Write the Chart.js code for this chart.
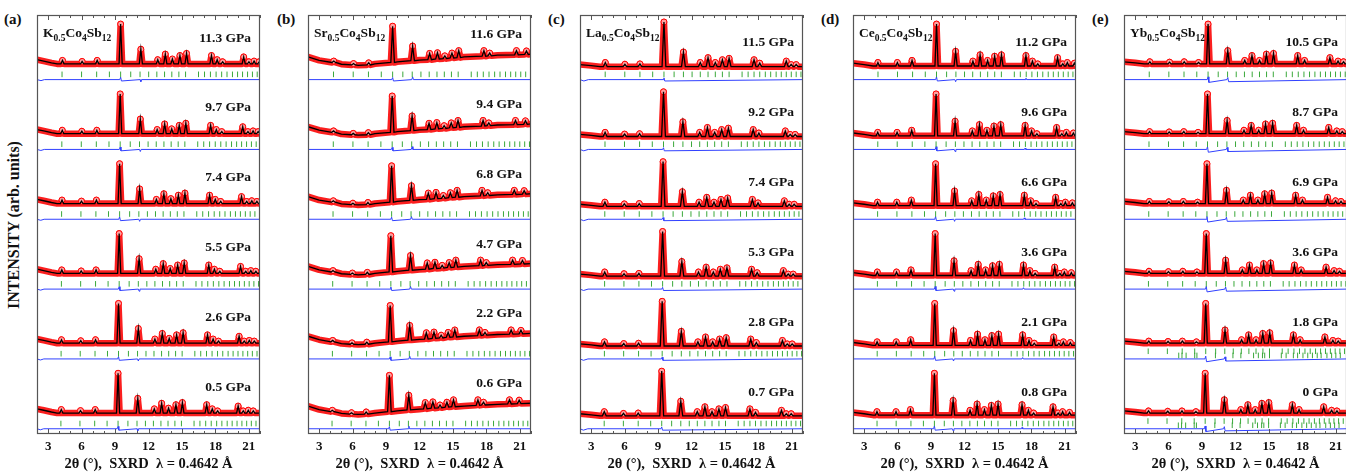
<!DOCTYPE html>
<html>
<head>
<meta charset="utf-8">
<title>SXRD patterns under pressure</title>
<script src="https://cdn.jsdelivr.net/npm/chart.js@4.4.1/dist/chart.umd.min.js"></script>
<style>
  html, body { margin: 0; padding: 0; background: #fff; overflow: hidden; }
  #wrap { position: relative; width: 1346px; height: 473px; overflow: hidden;
          font-family: 'Liberation Serif', serif; font-weight: bold; color: #111; }
  .panel { position: absolute; top: 0; width: 233px; height: 473px; }
  .letter { position: absolute; top: 11px; font-size: 15px; }
  #ytitle { position: absolute; left: 14px; top: 225px; font-size: 16px; white-space: nowrap;
            transform: translate(-50%, -50%) rotate(-90deg); }
</style>
</head>
<body>
<div id="wrap">
  <div id="ytitle">INTENSITY (arb. units)</div>
</div>
<script>
// ---- data ----
const dopants = ['K', 'Sr', 'La', 'Ce', 'Yb'];
const letters = ['(a)', '(b)', '(c)', '(d)', '(e)'];

// pressures, top row to bottom row (GPa)
const pressK  = [11.3, 9.7, 7.4, 5.5, 2.6, 0.5];
const pressSr = [11.6, 9.4, 6.8, 4.7, 2.2, 0.6];
const pressLa = [11.5, 9.2, 7.4, 5.3, 2.8, 0.7];
const pressCe = [11.2, 9.6, 6.6, 3.6, 2.1, 0.8];
const pressYb = [10.5, 8.7, 6.9, 3.6, 1.8, 0];

// position of the strongest reflection in each row (top to bottom)
const mainK  = [9.50, 9.46, 9.41, 9.37, 9.31, 9.27];
const mainSr = [9.59, 9.55, 9.50, 9.43, 9.37, 9.30];
const mainLa = [9.53, 9.49, 9.45, 9.41, 9.37, 9.33];
const mainCe = [9.49, 9.45, 9.41, 9.37, 9.33, 9.30];
const mainYb = [9.54, 9.49, 9.44, 9.38, 9.33, 9.28];

// peak positions (lowest-pressure row), heights and base level (fraction of a row)
const posK  = [4.18, 5.9, 7.22, 9.27, 11.04, 12.52, 13.18, 13.8, 14.46, 15.04, 17.22, 17.72, 18.2, 20.04, 20.5, 20.95, 21.4];
const htK   = [0.05, 0.035, 0.05, 0.57, 0.21, 0.06, 0.14, 0.07, 0.12, 0.15, 0.12, 0.06, 0.03, 0.1, 0.03, 0.04, 0.03];
const baseK = [0.3, 0.3, 0.3, 0.3, 0.3, 0.3, 0.3, 0.3, 0.3, 0.3, 0.3, 0.3, 0.3, 0.3, 0.3, 0.3, 0.3];
const bgXK  = [2, 2.6, 3.3, 3.8, 22];
const bgYK  = [0.36, 0.34, 0.315, 0.3, 0.3];

const posSr  = [4.18, 5.9, 7.22, 9.3, 11.04, 12.52, 13.2, 13.84, 14.46, 15.05, 17.24, 17.74, 20.07, 20.94];
const htSr   = [0.02, 0.02, 0.03, 0.52, 0.21, 0.09, 0.09, 0.04, 0.07, 0.1, 0.08, 0.04, 0.06, 0.05];
const baseSr = [0.32, 0.285, 0.285, 0.32, 0.345, 0.36, 0.37, 0.375, 0.385, 0.39, 0.41, 0.415, 0.43, 0.435];
const bgXSr  = [2, 3, 5, 6.5, 8, 10, 12, 16, 19, 22];
const bgYSr  = [0.4, 0.35, 0.295, 0.28, 0.3, 0.33, 0.355, 0.4, 0.425, 0.44];

const posLa  = [4.18, 5.9, 7.22, 9.33, 11.04, 12.52, 13.2, 13.84, 14.46, 15.05, 17.24, 17.74, 20.07, 20.5, 20.94];
const htLa   = [0.06, 0.035, 0.04, 0.64, 0.21, 0.06, 0.13, 0.06, 0.1, 0.12, 0.1, 0.05, 0.08, 0.03, 0.03];
const baseLa = [0.26, 0.26, 0.26, 0.26, 0.26, 0.26, 0.26, 0.26, 0.26, 0.26, 0.26, 0.26, 0.26, 0.26, 0.26];
const bgXLa  = [2, 3, 3.8, 22];
const bgYLa  = [0.29, 0.275, 0.26, 0.26];

const posCe  = [4.15, 5.86, 7.15, 9.3, 10.98, 12.5, 13.13, 13.79, 14.41, 15.01, 17.16, 17.73, 18.2, 19.94, 20.4, 20.8, 21.42];
const htCe   = [0.05, 0.05, 0.08, 0.6, 0.21, 0.07, 0.16, 0.08, 0.14, 0.16, 0.15, 0.07, 0.03, 0.12, 0.03, 0.05, 0.04];
const baseCe = [0.27, 0.27, 0.27, 0.27, 0.27, 0.27, 0.27, 0.27, 0.27, 0.27, 0.27, 0.27, 0.27, 0.27, 0.27, 0.27, 0.27];
const bgXCe  = [2, 3, 3.8, 22];
const bgYCe  = [0.31, 0.29, 0.27, 0.27];

const posYb  = [4.2, 5.92, 7.2, 8.45, 9.28, 11.0, 12.48, 13.11, 13.77, 14.37, 14.99, 17.1, 17.7, 19.91, 20.62, 21.1];
const htYb   = [0.03, 0.025, 0.03, 0.02, 0.57, 0.19, 0.05, 0.12, 0.05, 0.14, 0.15, 0.12, 0.05, 0.09, 0.04, 0.03];
const baseYb = [0.3, 0.3, 0.3, 0.3, 0.3, 0.3, 0.3, 0.3, 0.3, 0.3, 0.3, 0.3, 0.3, 0.3, 0.3, 0.3];
const bgXYb  = [2, 3, 3.8, 22];
const bgYYb  = [0.33, 0.315, 0.3, 0.3];

// difference curve (obs - calc), lowest-pressure row
const diffXK  = [2, 2.3, 2.6, 9.2, 9.27, 9.34, 10.97, 11.04, 11.11, 22];
const diffYK  = [0, -0.015, 0, 0, 0.035, -0.02, 0, -0.03, 0, 0];
const diffXSr = [2, 9.23, 9.3, 9.37, 10.97, 11.04, 11.11, 22];
const diffYSr = [0, 0, 0.03, -0.02, 0, 0.04, 0, 0];
const diffXLa = [2, 2.3, 2.7, 9.26, 9.33, 9.4, 22];
const diffYLa = [0, -0.02, 0, 0, 0.025, -0.02, 0];
const diffXCe = [2, 9.23, 9.3, 9.37, 10.91, 10.98, 11.05, 17.1, 17.16, 17.22, 22];
const diffYCe = [0, 0, 0.04, -0.02, 0, -0.03, 0, 0, 0.02, 0, 0];
const diffXYb = [2, 9.21, 9.28, 9.35, 10.93, 11.0, 11.07, 22];
const diffYYb = [0, 0, 0.04, -0.04, 0, 0.03, -0.03, 0];

// Bragg reflection markers (skutterudite, read at main peak = 9.33) and second phase in Yb
const braggPos = [4.17, 5.89, 7.22, 8.34, 9.33, 10.22, 11.04, 11.8, 12.52, 13.2, 13.84, 14.46, 15.05,
                  16.19, 16.72, 17.24, 17.74, 18.23, 18.7, 19.18, 19.63, 20.07, 20.51, 20.94, 21.36, 21.78];
const braggRef = 9.33;
const bragg2Yb = [6.91, 7.2, 7.57, 8.34, 8.54, 10.2, 11.77, 12.48, 13.62, 14.05, 14.42, 14.62, 15.05,
                  16.11, 16.54, 17.19, 17.57, 18.05, 18.48, 18.9, 19.33, 19.68, 20.2, 20.62, 21.0, 21.4];
const bragg2Rows = [4, 5];

// ---- layout ----
const rowCount = 6;
const panelLeft = [32, 303, 575, 848, 1119];
const letterX = [13, 286, 557, 830, 1101];
const labelDrop = [0.33, 0.28, 0.4, 0.4, 0.4];
const fontFam = '"Liberation Serif", serif';

const panels = [
  { press: pressK,  main: mainK,  pos: posK,  ht: htK,  base: baseK,  bgX: bgXK,  bgY: bgYK,  dX: diffXK,  dY: diffYK,  w: 0.14 },
  { press: pressSr, main: mainSr, pos: posSr, ht: htSr, base: baseSr, bgX: bgXSr, bgY: bgYSr, dX: diffXSr, dY: diffYSr, w: 0.16 },
  { press: pressLa, main: mainLa, pos: posLa, ht: htLa, base: baseLa, bgX: bgXLa, bgY: bgYLa, dX: diffXLa, dY: diffYLa, w: 0.17 },
  { press: pressCe, main: mainCe, pos: posCe, ht: htCe, base: baseCe, bgX: bgXCe, bgY: bgYCe, dX: diffXCe, dY: diffYCe, w: 0.14 },
  { press: pressYb, main: mainYb, pos: posYb, ht: htYb, base: baseYb, bgX: bgXYb, bgY: bgYYb, dX: diffXYb, dY: diffYYb, w: 0.14 }
];

function rowSets(p, row, second) {
  const off = rowCount - 1 - row;
  const f = p.main[row] / p.main[rowCount - 1];
  const pts = [];
  p.bgX.forEach((x, i) => pts.push({ x: x, y: off + p.bgY[i] }));
  p.pos.forEach((x0, i) => {
    const x = x0 * f;
    pts.push({ x: x - p.w, y: off + p.base[i] });
    pts.push({ x: x, y: off + p.base[i] + p.ht[i], top: true });
    pts.push({ x: x + p.w, y: off + p.base[i] });
  });
  pts.sort((a, b) => a.x - b.x);
  const diff = p.dX.map((x, i) => ({ x: (x === 2 || x === 22) ? x : x * f, y: off + 0.075 + p.dY[i] }));
  const fb = p.main[row] / braggRef;
  const tickY = second ? 0.185 : 0.15;
  const ticks = braggPos.map(x => ({ x: x * fb, y: off + tickY })).filter(t => t.x < 22);
  const sets = [
    { data: pts, borderColor: '#000', borderWidth: 1.3, pointRadius: 0, order: 0 },
    { data: pts, borderColor: 'rgba(250,0,0,0.88)', borderWidth: 6.5, borderJoinStyle: 'round',
      borderCapStyle: 'round', pointRadius: pts.map(q => q.top ? 3 : 0), pointBorderColor: '#f00',
      pointBackgroundColor: '#ffa0a0', pointBorderWidth: 1, order: 1 },
    { data: ticks, showLine: false, pointStyle: 'line', pointRotation: 90, pointRadius: 2.8,
      pointBorderColor: '#3aa83a', pointBorderWidth: 1, order: 2 },
    { data: diff, borderColor: '#3040ff', borderWidth: 1, pointRadius: 0, order: 3 }
  ];
  if (second) {
    const t2 = bragg2Yb.map(x => ({ x: x * fb, y: off + 0.125 })).filter(t => t.x < 22);
    sets.push({ data: t2, showLine: false, pointStyle: 'line', pointRotation: 90, pointRadius: 2.8,
                pointBorderColor: '#3aa83a', pointBorderWidth: 1, order: 2 });
  }
  return sets;
}

const panelDeco = {
  id: 'panelDeco',
  afterDraw(chart, args, o) {
    const { ctx, chartArea: a, scales: { x, y } } = chart;
    ctx.save();
    ctx.strokeStyle = '#555';
    ctx.lineWidth = 1.2;
    ctx.strokeRect(a.left + 0.5, a.top + 0.5, a.width - 1, a.height - 1);
    ctx.lineWidth = 1;
    ctx.beginPath();
    x.ticks.forEach(t => {
      const px = Math.round(x.getPixelForValue(t.value)) + 0.5;
      const len = t.value % 3 === 0 ? 5 : 3;
      ctx.moveTo(px, a.bottom); ctx.lineTo(px, a.bottom - len);
      ctx.moveTo(px, a.top); ctx.lineTo(px, a.top + len);
    });
    ctx.stroke();

    ctx.fillStyle = '#111';
    // compound formula with subscripts
    const parts = [[o.dopant, false], ['0.5', true], ['Co', false], ['4', true], ['Sb', false], ['12', true]];
    let cx = a.left + 6;
    const by = y.getPixelForValue(5.68);
    ctx.textAlign = 'left';
    ctx.textBaseline = 'alphabetic';
    parts.forEach(([txt, sub]) => {
      ctx.font = sub ? 'bold 9.5px ' + fontFam : 'bold 13.5px ' + fontFam;
      ctx.fillText(txt, cx, sub ? by + 3.5 : by);
      cx += ctx.measureText(txt).width;
    });
    // pressure labels
    ctx.font = 'bold 13.5px ' + fontFam;
    ctx.textAlign = 'right';
    ctx.textBaseline = 'middle';
    o.press.forEach((pv, r) => {
      ctx.fillText(pv + ' GPa', a.right - 9, y.getPixelForValue(rowCount - r - o.drop));
    });
    ctx.restore();
  }
};

const wrap = document.getElementById('wrap');
panels.forEach((p, k) => {
  const div = document.createElement('div');
  div.className = 'panel';
  div.style.left = panelLeft[k] + 'px';
  const cv = document.createElement('canvas');
  div.appendChild(cv);
  wrap.appendChild(div);

  const lt = document.createElement('div');
  lt.className = 'letter';
  lt.textContent = letters[k];
  lt.style.left = (letterX[k] - 9) + 'px';
  wrap.appendChild(lt);

  let datasets = [];
  for (let r = 0; r < rowCount; r++) {
    datasets = datasets.concat(rowSets(p, r, k === 4 && bragg2Rows.includes(r)));
  }

  new Chart(cv, {
    type: 'line',
    data: { datasets: datasets },
    options: {
      animation: false,
      responsive: true,
      maintainAspectRatio: false,
      layout: { padding: { top: 15, left: 0, right: 0, bottom: 0 } },
      plugins: {
        legend: { display: false },
        tooltip: { enabled: false },
        panelDeco: { dopant: dopants[k], press: p.press, drop: labelDrop[k] }
      },
      scales: {
        x: {
          type: 'linear', min: 2, max: 22,
          afterFit: s => { s.height = 39; },
          grid: { display: false, drawTicks: false },
          border: { display: false },
          ticks: {
            stepSize: 1, autoSkip: false, maxRotation: 0, padding: 5, color: '#111',
            font: { family: fontFam, size: 13, weight: 'bold' },
            callback: v => (v % 3 === 0 ? String(v) : '')
          },
          title: {
            display: true, text: '2θ (°),  SXRD  λ = 0.4642 Å', color: '#111',
            font: { family: fontFam, size: 14.5, weight: 'bold' },
            padding: { top: 0, bottom: 0 }
          }
        },
        y: { display: false, min: 0, max: 6 }
      }
    },
    plugins: [panelDeco]
  });
});
</script>
</body>
</html>
